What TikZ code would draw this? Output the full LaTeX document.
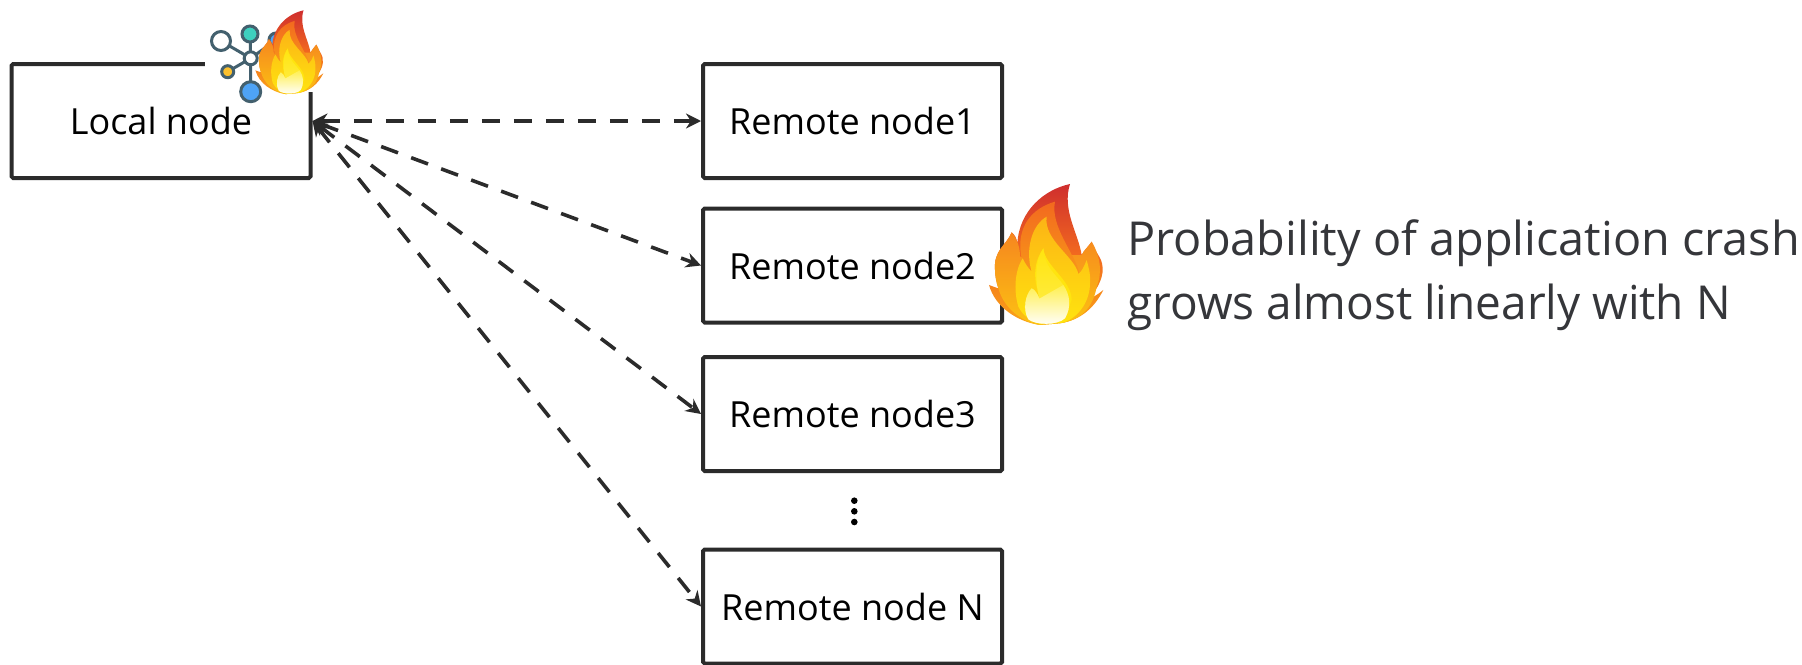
\documentclass[tikz,border=0pt]{standalone}
\usepackage{fontspec}
\setmainfont{Open Sans}
\usetikzlibrary{arrows.meta}
\definecolor{boxline}{HTML}{2B2B2B}
\definecolor{captext}{HTML}{35363A}
\definecolor{iconline}{HTML}{43606E}
\definecolor{iconteal}{HTML}{3ED0BF}
\definecolor{iconyellow}{HTML}{FBC02D}
\definecolor{iconblue}{HTML}{4EA3F5}
\definecolor{flA}{HTML}{CF2E2E}
\definecolor{flB}{HTML}{F2691F}
\definecolor{flC}{HTML}{FAA518}
\definecolor{flD}{HTML}{F6861F}
\definecolor{flE}{HTML}{FCC212}
\definecolor{flF}{HTML}{FCB415}
\definecolor{flG}{HTML}{FFE40F}
\definecolor{flH}{HTML}{FFEF50}
\newcommand{\flamedraw}[3]{%
\begin{scope}[shift={(#1,#2)},scale=#3]
\shade[top color=flA,bottom color=flC,middle color=flB] (330,72) .. controls (255,88) and (178,150) .. (172,250) .. controls (170,235) and (165,225) .. (155,217) .. controls (140,255) and (100,270) .. (105,330) .. controls (105,350) and (110,370) .. (115,385) .. controls (105,382) and (95,378) .. (87,375) .. controls (105,440) and (170,485) .. (240,495) -- (300,490) .. controls (365,480) and (405,440) .. (430,390) .. controls (415,402) and (400,412) .. (385,418) .. controls (415,385) and (435,345) .. (426,310) .. controls (420,285) and (400,270) .. (395,245) .. controls (385,260) and (372,270) .. (365,285) .. controls (355,220) and (305,150) .. (330,72) -- cycle;
\shade[top color=flD,bottom color=flE] (155,217) .. controls (140,255) and (100,270) .. (105,330) .. controls (105,350) and (110,370) .. (115,385) .. controls (130,440) and (180,485) .. (240,495) -- (300,490) .. controls (365,480) and (400,440) .. (410,380) .. controls (425,345) and (425,295) .. (395,245) .. controls (385,260) and (372,270) .. (365,285) -- (180,290) .. controls (180,260) and (170,235) .. (155,217) -- cycle;
\shade[top color=flB,bottom color=flF] (285,125) .. controls (215,145) and (170,200) .. (183,285) .. controls (190,310) and (200,325) .. (205,340) -- (225,480) -- (345,460) -- (358,340) .. controls (345,280) and (270,200) .. (285,125) -- cycle;
\shade[top color=flF,bottom color=flG] (260,170) .. controls (215,195) and (195,270) .. (215,335) .. controls (205,325) and (195,310) .. (188,295) .. controls (165,330) and (160,390) .. (175,440) .. controls (190,470) and (215,485) .. (240,492) -- (310,488) .. controls (360,470) and (390,420) .. (390,370) .. controls (392,340) and (385,320) .. (380,300) .. controls (372,320) and (365,335) .. (355,342) .. controls (345,290) and (250,240) .. (260,170) -- cycle;
\fill[flG] (250,265) .. controls (225,300) and (215,350) .. (240,415) -- (190,440) -- (240,490) -- (310,485) -- (335,420) .. controls (335,360) and (255,320) .. (250,265) -- cycle;
\shade[top color=flG,bottom color=flH] (250,265) .. controls (228,300) and (222,350) .. (238,416) .. controls (232,400) and (225,390) .. (215,385) .. controls (195,405) and (188,450) .. (205,478) .. controls (225,495) and (290,498) .. (315,475) .. controls (335,440) and (330,405) .. (310,375) .. controls (290,345) and (255,325) .. (250,265) -- cycle;
\shade[top color=flH,middle color=white,bottom color=white] (215,385) .. controls (195,405) and (188,450) .. (205,478) .. controls (225,495) and (290,498) .. (315,475) .. controls (335,440) and (330,405) .. (310,375) -- (238,416) .. controls (232,400) and (225,390) .. (215,385) -- cycle;
\end{scope}}
\tikzset{
 nodebox/.style={draw=boxline,line width=2pt,fill=white,rounded corners=0.8pt,minimum width=149.5pt,minimum height=57pt,inner sep=0pt,font=\fontsize{18}{21}\selectfont,text=black,anchor=center},
 link/.style={draw=boxline,line width=1.8pt,dash pattern=on 9pt off 7pt,{Stealth[length=7.5pt,width=7.5pt]}-{Stealth[length=7.5pt,width=7.5pt]}},
 captiontext/.style={font=\fontsize{23.4}{32}\selectfont,text=captext,align=left,anchor=north west,inner sep=0pt},
 hubline/.style={draw=iconline,line width=1.5pt},
}
\begin{document}
\begin{tikzpicture}[x=0.5pt,y=-0.5pt]
\useasboundingbox (0,0) rectangle (1802,664);
\node[nodebox] (local) at (161,121) {Local node};
\node[nodebox] (r1) at (852.5,121) {Remote node1};
\node[nodebox] (r2) at (852.5,265.5) {Remote node2};
\node[nodebox] (r3) at (852.5,414) {Remote node3};
\node[nodebox] (rn) at (852.5,606.5) {Remote node N};
\draw[link] (local.east) -- (r1.west);
\draw[link] (local.east) -- (r2.west);
\draw[link] (local.east) -- (r3.west);
\draw[link] (local.east) -- (rn.west);
\fill[white] (205,15) rectangle (325,92);
\draw[hubline] (250.7,58.3) -- (250,34) (250.7,58.3) -- (221,41) (250.7,58.3) -- (227.7,71.7) (250.7,58.3) -- (250.7,91.7) (250.7,58.3) -- (276,40);
\draw[hubline,fill=white] (250.7,58.3) circle (6.5);
\draw[hubline,fill=white] (221,41) circle (9.5);
\draw[hubline,fill=iconteal] (250,34) circle (8);
\draw[hubline,fill=iconyellow] (227.7,71.7) circle (6);
\draw[hubline,fill=iconblue] (250.7,91.7) circle (10);
\draw[hubline,fill=iconblue] (276,40) circle (7);
\flamedraw{238.2}{-3.9}{0.198}
\flamedraw{960}{160}{0.3333}
\fill[black] (854.3,500.7) circle (3.3) (854.3,511.3) circle (3.3) (854.3,522) circle (3.3);
\node[captiontext] (caption) at (1127,219.5) {Probability of application crash\\\scalebox{0.981}[1]{grows almost linearly with N}};
\end{tikzpicture}
\end{document}
